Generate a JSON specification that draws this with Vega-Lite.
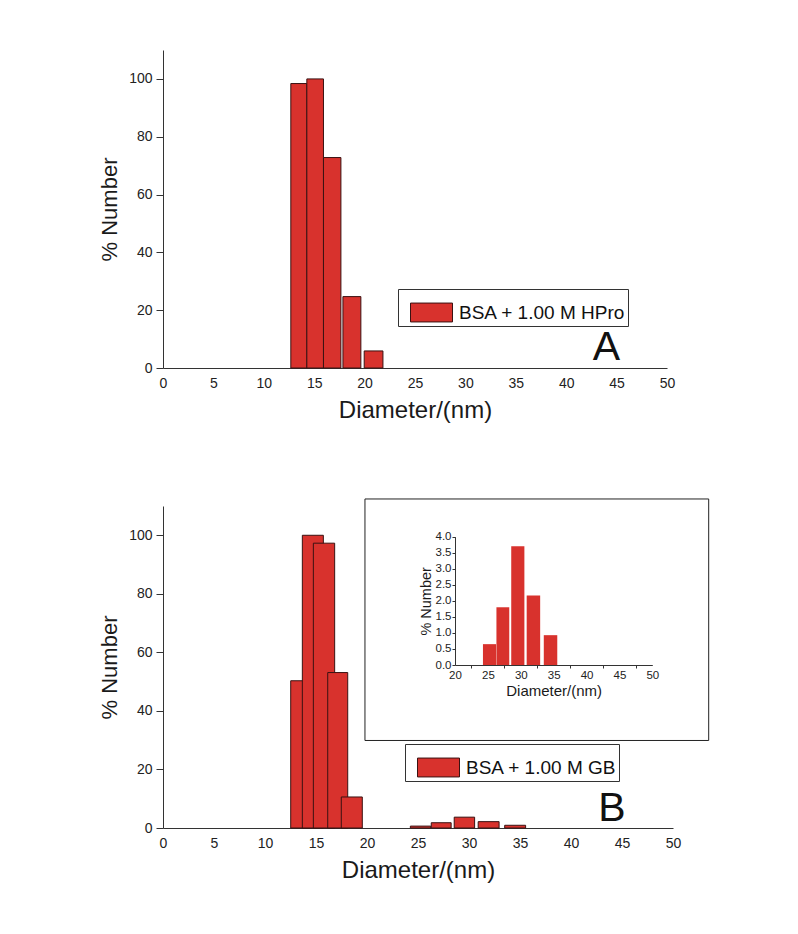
{
  "$schema": "https://vega.github.io/schema/vega-lite/v6.json",
  "background": "white",
  "padding": {"left": 98, "top": 50, "right": 10, "bottom": 10},
  "config": {
    "font": "Liberation Sans",
    "view": {"stroke": null},
    "axis": {"domainColor": "#333", "tickColor": "#333", "labelColor": "#222", "titleColor": "#1a1a1a", "grid": false, "labelFont": "Liberation Sans", "titleFont": "Liberation Sans", "titleFontWeight": "normal"}
  },
  "datasets": {
    "hpro": [
      {"d0": 12.68, "d1": 14.27, "pct": 98.4, "series": "BSA + 1.00 M HPro"},
      {"d0": 14.27, "d1": 15.92, "pct": 100, "series": "BSA + 1.00 M HPro"},
      {"d0": 15.92, "d1": 17.65, "pct": 72.8, "series": "BSA + 1.00 M HPro"},
      {"d0": 17.85, "d1": 19.63, "pct": 24.7, "series": "BSA + 1.00 M HPro"},
      {"d0": 19.96, "d1": 21.82, "pct": 5.9, "series": "BSA + 1.00 M HPro"}
    ],
    "gb": [
      {"d0": 12.52, "d1": 14.58, "pct": 50.3, "series": "BSA + 1.00 M GB"},
      {"d0": 13.66, "d1": 15.72, "pct": 100, "series": "BSA + 1.00 M GB"},
      {"d0": 14.74, "d1": 16.83, "pct": 97.3, "series": "BSA + 1.00 M GB"},
      {"d0": 16.15, "d1": 18.11, "pct": 53.1, "series": "BSA + 1.00 M GB"},
      {"d0": 17.48, "d1": 19.54, "pct": 10.6, "series": "BSA + 1.00 M GB"},
      {"d0": 24.25, "d1": 26.25, "pct": 0.65, "series": "BSA + 1.00 M GB"},
      {"d0": 26.3, "d1": 28.25, "pct": 1.8, "series": "BSA + 1.00 M GB"},
      {"d0": 28.55, "d1": 30.55, "pct": 3.7, "series": "BSA + 1.00 M GB"},
      {"d0": 30.9, "d1": 32.95, "pct": 2.17, "series": "BSA + 1.00 M GB"},
      {"d0": 33.5, "d1": 35.55, "pct": 0.93, "series": "BSA + 1.00 M GB"}
    ]
  },
  "spacing": 76,
  "resolve": {"scale": {"fill": "independent"}, "legend": {"fill": "independent"}},
  "vconcat": [
    {
      "width": 504,
      "height": 318,
      "layer": [
        {
          "data": {"name": "hpro"},
          "mark": {"type": "rect", "stroke": "#3a1212", "strokeWidth": 1},
          "encoding": {
            "x": {"field": "d0", "type": "quantitative", "scale": {"domain": [0, 50]},
              "axis": {"orient": "bottom", "values": [0,2.5,5,7.5,10,12.5,15,17.5,20,22.5,25,27.5,30,32.5,35,37.5,40,42.5,45,47.5,50],
                "labelExpr": "datum.value % 5 === 0 ? datum.label : ''",
                "tickOpacity": {"condition": {"test": "datum.value % 5 === 0", "value": 0}, "value": 1},
                "tickSize": 5, "labelPadding": 3, "labelFontSize": 14, "labelFlush": false, "labelOverlap": false, "labelBound": false,
                "title": "Diameter/(nm)", "titleFontSize": 24, "titlePadding": 8}},
            "x2": {"field": "d1"},
            "y": {"field": "pct", "type": "quantitative", "scale": {"domain": [0, 108]},
              "axis": {"values": [0,10,20,30,40,50,60,70,80,90,100],
                "labelExpr": "datum.value % 20 === 0 ? datum.label : ''",
                "tickSize": {"condition": {"test": "datum.value % 20 === 0", "value": 7}, "value": 4},
                "labelPadding": 4, "labelFontSize": 14, "labelOverlap": false,
                "title": "% Number", "titleFontSize": 22, "titlePadding": 7}},
            "y2": {"datum": 0},
            "fill": {"field": "series", "type": "nominal", "scale": {"range": ["#d8322d"]},
              "legend": {"orient": "none", "legendX": 235, "legendY": 239, "title": null,
                "symbolType": "M-1,-0.45H1V0.45H-1Z", "symbolSize": 1764, "symbolStrokeColor": "#3a1212", "symbolStrokeWidth": 1,
                "symbolOffset": 10, "labelFontSize": 19, "labelFont": "Liberation Sans", "labelColor": "#111", "labelOffset": 6,
                "padding": 2, "strokeColor": "#333", "labelLimit": 400}}
          }
        },
        {
          "data": {"values": [{"panel": "A"}]},
          "mark": {"type": "text", "fontSize": 41, "font": "Liberation Sans", "align": "center", "baseline": "alphabetic", "color": "#111"},
          "encoding": {
            "text": {"field": "panel"},
            "x": {"datum": 44, "type": "quantitative"},
            "y": {"datum": 2.6, "type": "quantitative"}
          }
        }
      ]
    },
    {
      "width": 510,
      "height": 322,
      "resolve": {"scale": {"x": "independent", "y": "independent"}, "axis": {"x": "independent", "y": "independent"}},
      "layer": [
        {
          "layer": [
            {
              "data": {"values": [{"box": "inset"}]},
              "mark": {"type": "rect", "fillOpacity": 0, "stroke": "#222", "strokeWidth": 1, "clip": false},
              "encoding": {
                "x": {"datum": 19.8, "type": "quantitative"},
                "x2": {"datum": 53.5},
                "y": {"datum": 112.4, "type": "quantitative"},
                "y2": {"datum": 29.9}
              }
            },
            {
              "data": {"name": "gb"},
              "mark": {"type": "rect", "stroke": "#3a1212", "strokeWidth": 1},
              "encoding": {
                "x": {"field": "d0", "type": "quantitative", "scale": {"domain": [0, 50]},
                  "axis": {"orient": "bottom", "values": [0,2.5,5,7.5,10,12.5,15,17.5,20,22.5,25,27.5,30,32.5,35,37.5,40,42.5,45,47.5,50],
                    "labelExpr": "datum.value % 5 === 0 ? datum.label : ''",
                    "tickOpacity": {"condition": {"test": "datum.value % 5 === 0", "value": 0}, "value": 1},
                    "tickSize": 5, "labelPadding": 3, "labelFontSize": 14, "labelFlush": false, "labelOverlap": false, "labelBound": false,
                    "title": "Diameter/(nm)", "titleFontSize": 24, "titlePadding": 8}},
                "x2": {"field": "d1"},
                "y": {"field": "pct", "type": "quantitative", "scale": {"domain": [0, 108]},
                  "axis": {"orient": "left", "values": [0,10,20,30,40,50,60,70,80,90,100],
                    "labelExpr": "datum.value % 20 === 0 ? datum.label : ''",
                    "tickSize": {"condition": {"test": "datum.value % 20 === 0", "value": 7}, "value": 4},
                    "labelPadding": 4, "labelFontSize": 14, "labelOverlap": false,
                    "title": "% Number", "titleFontSize": 22, "titlePadding": 7}},
                "y2": {"datum": 0},
                "fill": {"field": "series", "type": "nominal", "scale": {"range": ["#d8322d"]},
                  "legend": {"orient": "none", "legendX": 242, "legendY": 238, "title": null,
                    "symbolType": "M-1,-0.45H1V0.45H-1Z", "symbolSize": 1764, "symbolStrokeColor": "#3a1212", "symbolStrokeWidth": 1,
                    "symbolOffset": 10, "labelFontSize": 19, "labelFont": "Liberation Sans", "labelColor": "#111", "labelOffset": 6,
                    "padding": 2, "strokeColor": "#333", "labelLimit": 400}}
              }
            },
            {
              "data": {"values": [{"panel": "B"}]},
              "mark": {"type": "text", "fontSize": 41, "font": "Liberation Sans", "align": "center", "baseline": "alphabetic", "color": "#111"},
              "encoding": {
                "text": {"field": "panel"},
                "x": {"datum": 44, "type": "quantitative"},
                "y": {"datum": 2.4, "type": "quantitative"}
              }
            }
          ]
        },
        {
          "data": {"name": "gb"},
          "transform": [{"filter": "datum.d0 > 20"}],
          "mark": {"type": "rect", "fill": "#d8322d"},
          "encoding": {
            "x": {"field": "d0", "type": "quantitative", "scale": {"domain": [20, 50], "range": [292, 489.3]},
              "axis": {"orient": "bottom", "offset": -163, "values": [20,22.5,25,27.5,30,32.5,35,37.5,40,42.5,45,47.5,50],
                "labelExpr": "datum.value % 5 === 0 ? datum.label : ''",
                "tickOpacity": {"condition": {"test": "datum.value % 5 === 0", "value": 0}, "value": 1},
                "tickSize": 3, "labelPadding": 1, "labelFontSize": 11.5, "labelFlush": false, "labelOverlap": false, "labelBound": false,
                "title": "Diameter/(nm)", "titleFontSize": 15, "titlePadding": 3}},
            "x2": {"field": "d1"},
            "y": {"field": "pct", "type": "quantitative", "scale": {"domain": [0, 4], "range": [159, 30.7]},
              "axis": {"orient": "left", "offset": -292, "values": [0,0.5,1,1.5,2,2.5,3,3.5,4], "format": ".1f",
                "tickSize": 3, "labelPadding": 1, "labelFontSize": 11.5, "labelOverlap": false,
                "title": "% Number", "titleFontSize": 14.5, "titlePadding": 2}},
            "y2": {"datum": 0}
          }
        }
      ]
    }
  ]
}
